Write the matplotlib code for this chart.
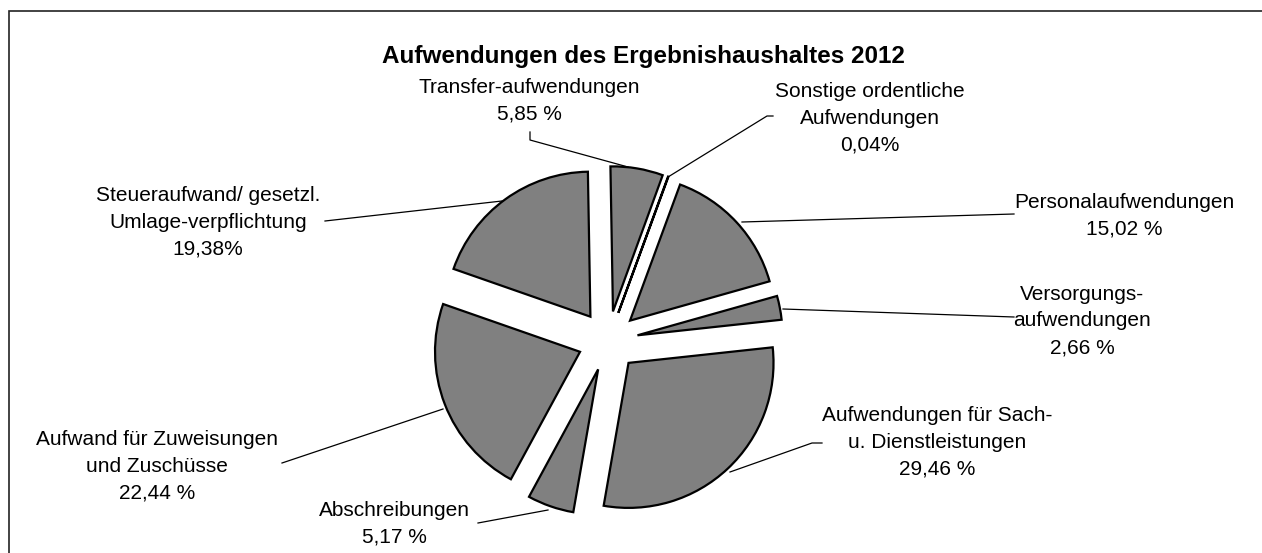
import matplotlib
matplotlib.use("Agg")
import matplotlib.pyplot as plt
from matplotlib.patches import Rectangle

# ---- data (clockwise from 12 o'clock) ----
categories = ["Transfer-aufwendungen", "Sonstige ordentliche Aufwendungen",
              "Personalaufwendungen", "Versorgungsaufwendungen",
              "Aufwendungen für Sach- u. Dienstleistungen", "Abschreibungen",
              "Aufwand für Zuweisungen und Zuschüsse",
              "Steueraufwand/ gesetzl. Umlage-verpflichtung"]
values = [5.85, 0.04, 15.02, 2.66, 29.46, 5.17, 22.44, 19.38]
label_texts = ["Transfer-aufwendungen\n5,85 %",
               "Sonstige ordentliche\nAufwendungen\n0,04%",
               "Personalaufwendungen\n15,02 %",
               "Versorgungs-\naufwendungen\n2,66 %",
               "Aufwendungen für Sach-\nu. Dienstleistungen\n29,46 %",
               "Abschreibungen\n5,17 %",
               "Aufwand für Zuweisungen\nund Zuschüsse\n22,44 %",
               "Steueraufwand/ gesetzl.\nUmlage-verpflichtung\n19,38%"]
title = "Aufwendungen des Ergebnishaushaltes 2012"

W, H = 1262, 553
fig = plt.figure(figsize=(W / 100, H / 100), dpi=100)
ax = fig.add_axes([0, 0, 1, 1])

def Y(y):
    return H - y

ax.pie(values, explode=[30] * len(values), radius=145, center=(608, Y(341)),
       startangle=91, counterclock=False, colors=["#808080"] * len(values),
       wedgeprops=dict(edgecolor="black", linewidth=1.6, joinstyle="miter"),
       frame=True)

ax.set_xlim(0, W)
ax.set_ylim(0, H)
ax.set_aspect("equal")
ax.axis("off")

# frame of chart area (cropped at right/bottom)
ax.add_patch(Rectangle((9, -20), W + 20, Y(11) + 20, fill=False,
                       edgecolor="#222222", linewidth=1.2))

font = "Liberation Sans"
ax.text(643, Y(57), title, ha="center", va="center", fontsize=17.5,
        fontweight="bold", family=font)

label_pos = [(529, 101), (870, 118), (1124, 216), (1082, 321),
             (937, 442), (394, 524), (157, 466), (208, 222)]
for (x, y), t in zip(label_pos, label_texts):
    ax.text(x, Y(y), t, ha="center", va="center", fontsize=15,
            family=font, linespacing=1.53, color="black")

leaders = [
    [(530, 132), (530, 140), (628, 167)],
    [(773, 116), (767, 116), (668, 177)],
    [(1014, 214), (742, 222)],
    [(1014, 317), (783, 309)],
    [(822, 443), (812, 443), (730, 472)],
    [(478, 523), (548, 510)],
    [(282, 463), (443, 409)],
    [(325, 221), (502, 201)],
]
for pts in leaders:
    xs = [p[0] for p in pts]
    ys = [Y(p[1]) for p in pts]
    ax.plot(xs, ys, color="black", linewidth=0.9)

fig.savefig("out.png", dpi=100, facecolor="white")
